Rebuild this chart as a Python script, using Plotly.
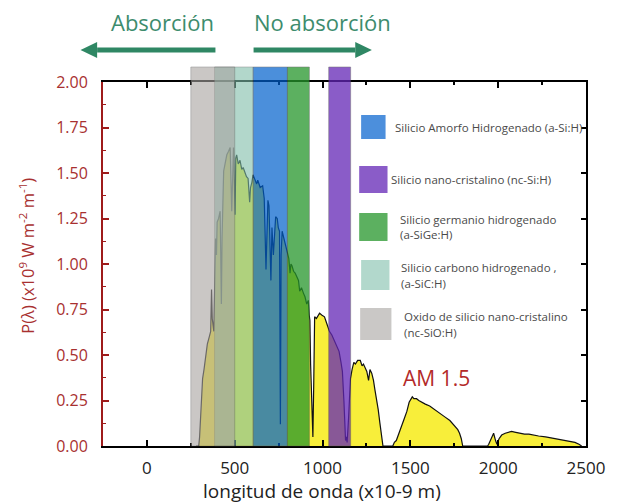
import plotly.graph_objects as go

# AM 1.5 solar spectral irradiance (wavelength in nm, P in 1e9 W m^-2 m^-1)
wavelength_nm = [
    280, 295, 300, 310, 317, 325, 335, 344, 355, 363, 368, 372, 381, 386, 391, 396,
    400, 408, 417, 424, 428, 437, 446, 455, 465, 474, 483, 488, 493, 502, 506, 511,
    520, 530, 540, 548, 558, 567, 576, 585, 590, 598, 604, 615, 625, 631, 645, 659,
    668, 678, 684, 689, 695, 706, 712, 720, 733, 742, 748, 755, 760, 764, 770, 780,
    790, 800, 808, 815, 820, 826, 835, 844, 855, 863, 870, 880, 891, 900, 910, 919,
    924, 928, 932, 937, 940, 945, 950, 955, 965, 975, 983, 995, 1011, 1025, 1039,
    1053, 1067, 1080, 1094, 1105, 1113, 1122, 1127, 1131, 1136, 1140, 1148, 1159,
    1168, 1178, 1187, 1200, 1215, 1225, 1233, 1243, 1252, 1262, 1270, 1280, 1290,
    1298, 1308, 1317, 1326, 1335, 1344, 1400, 1409, 1420, 1437, 1450, 1465, 1480,
    1493, 1505, 1511, 1520, 1535, 1548, 1565, 1585, 1610, 1641, 1670, 1696, 1725,
    1752, 1770, 1780, 1790, 1798, 1940, 1946, 1960, 1974, 1985, 1993, 2005, 2020,
    2040, 2060, 2076, 2100, 2122, 2150, 2175, 2196, 2230, 2270, 2300, 2344, 2370,
    2400, 2437, 2460, 2475,
]
irradiance = [
    0.00, 0.00, 0.05, 0.22, 0.37, 0.42, 0.50, 0.56, 0.60, 0.63, 0.86, 0.70, 0.63, 0.95, 1.14, 1.05,
    1.23, 1.25, 1.29, 0.78, 1.15, 1.51, 1.55, 1.60, 1.62, 1.64, 1.29, 1.55, 1.64, 1.27, 1.58, 1.60,
    1.55, 1.57, 1.52, 1.53, 1.50, 1.48, 1.47, 1.34, 1.42, 1.45, 1.49, 1.46, 1.44, 1.46, 1.42, 1.43,
    1.36, 0.97, 1.20, 1.35, 1.32, 0.91, 1.20, 1.05, 1.26, 1.25, 1.20, 1.18, 0.12, 1.05, 1.18, 1.14,
    1.10, 1.05, 1.03, 0.95, 1.00, 0.99, 0.96, 0.95, 0.93, 0.91, 0.85, 0.87, 0.84, 0.82, 0.78, 0.80,
    0.72, 0.69, 0.45, 0.28, 0.10, 0.05, 0.35, 0.71, 0.70, 0.72, 0.73, 0.72, 0.71, 0.67, 0.63,
    0.61, 0.58, 0.55, 0.52, 0.46, 0.41, 0.24, 0.12, 0.03, 0.05, 0.02, 0.15, 0.37,
    0.42, 0.46, 0.45, 0.47, 0.47, 0.44, 0.45, 0.43, 0.41, 0.36, 0.42, 0.40, 0.36,
    0.31, 0.26, 0.20, 0.13, 0.06, 0.00, 0.00, 0.02, 0.03, 0.07, 0.11, 0.15, 0.19,
    0.24, 0.26, 0.27, 0.26, 0.26, 0.25, 0.24, 0.23, 0.22, 0.20, 0.18, 0.16, 0.14,
    0.11, 0.09, 0.07, 0.04, 0.00, 0.00, 0.01, 0.04, 0.07, 0.03, 0.01, 0.04, 0.06,
    0.07, 0.075, 0.08, 0.075, 0.07, 0.065, 0.065, 0.06, 0.055, 0.05, 0.045, 0.035, 0.03,
    0.028, 0.02, 0.01, 0.00,
]

# Absorption bands of each thin-film material (nm), in drawing order
band_names = ["a-SiC:H", "nc-SiO:H", "a-Si:H", "a-SiGe:H", "nc-Si:H"]
band_start = [385, 250, 605, 800, 1035]
band_end = [605, 500, 800, 925, 1160]
band_colors = ["rgb(127,190,170)", "rgb(167,163,160)", "rgb(0,96,205)",
               "rgb(38,150,43)", "rgb(99,38,182)"]
band_opacity = [0.6, 0.6, 0.7, 0.75, 0.75]

# Legend entries (top to bottom): band index and text lines
legend_band = [2, 4, 3, 0, 1]
legend_lines = [
    ["Silicio Amorfo Hidrogenado (a-Si:H)"],
    ["Silicio nano-cristalino (nc-Si:H)"],
    ["Silicio germanio hidrogenado", "(a-SiGe:H)"],
    ["Silicio carbono hidrogenado ,", "(a-SiC:H)"],
    ["Oxido de silicio nano-cristalino", "(nc-SiO:H)"],
]

x_ticks = [0, 500, 1000, 1500, 2000, 2500]
y_ticks = [0.00, 0.25, 0.50, 0.75, 1.00, 1.25, 1.50, 1.75, 2.00]

RED = "#9e1b1b"
GREEN = "#2f8764"
FONT = "Open Sans"

# Plot-area geometry in pixels, used to place paper-referenced decorations
W, H = 617, 504
L, R, T, B = 103, 20, 82, 58
PW, PH = W - L - R, H - T - B


def px(xp):
    return (xp - L) / PW


def py(yp):
    return (H - B - yp) / PH


fig = go.Figure()
fig.add_trace(go.Scatter(
    x=wavelength_nm, y=irradiance, mode="lines",
    line=dict(color="#111111", width=1.2),
    fill="tozeroy", fillcolor="#f8ee3a",
    showlegend=False, hoverinfo="skip",
))
# invisible trace so the right-hand frame axis is drawn
fig.add_trace(go.Scatter(x=[0], y=[0], yaxis="y2", mode="markers",
                         marker=dict(opacity=0), showlegend=False, hoverinfo="skip"))

shapes = []
for i in range(len(band_names)):
    shapes.append(dict(
        type="rect", layer="above", xref="x", yref="paper",
        x0=band_start[i], x1=band_end[i], y0=0, y1=py(67),
        fillcolor=band_colors[i], opacity=band_opacity[i],
        line=dict(color="rgba(70,70,70,0.5)", width=1),
    ))

annotations = []
box_top = [115, 166, 213, 260, 308]
box_h = [24, 27, 28, 30, 32]
box_x0 = [367, 365, 365, 367, 366]
box_w = [25, 29, 29, 29, 32]
text_x = [400, 396, 405, 406, 409]
for k, bi in enumerate(legend_band):
    shapes.append(dict(
        type="rect", layer="above", xref="paper", yref="paper",
        x0=px(box_x0[k]), x1=px(box_x0[k] + box_w[k]),
        y0=py(box_top[k] + box_h[k]), y1=py(box_top[k]),
        fillcolor=band_colors[bi], opacity=band_opacity[bi], line=dict(width=0),
    ))
    lines = legend_lines[k]
    yc = box_top[k] + box_h[k] / 2
    offsets = [0] if len(lines) == 1 else [-8, 8]
    for line_text, dy in zip(lines, offsets):
        annotations.append(dict(
            text=line_text, xref="paper", yref="paper",
            x=px(text_x[k]), y=py(yc + dy), xanchor="left", yanchor="middle",
            showarrow=False, font=dict(family=FONT, size=11.5, color="#4a4a4a"),
        ))


def arrow(tail, tip, yp, color):
    """Thick horizontal arrow drawn in pixel positions as shaft + head."""
    direction = 1 if tip > tail else -1
    base = tip - direction * 17
    return [
        dict(type="line", xref="paper", yref="paper", layer="above",
             x0=px(tail), x1=px(base), y0=py(yp), y1=py(yp),
             line=dict(color=color, width=5)),
        dict(type="path", xref="paper", yref="paper", layer="above",
             path=(f"M {px(tip)} {py(yp)} L {px(base)} {py(yp - 8)} "
                   f"L {px(base)} {py(yp + 8)} Z"),
             fillcolor=color, line=dict(width=0)),
    ]


shapes += arrow(218, 80, 50, GREEN)
shapes += arrow(257, 378, 50, GREEN)

annotations += [
    dict(text="AM 1.5", xref="paper", yref="paper", x=px(408), y=py(378),
         xanchor="left", yanchor="middle", showarrow=False,
         font=dict(family=FONT, size=21, color="#b32a2a")),
    dict(text="Absorción", xref="paper", yref="paper", x=px(164), y=py(22),
         xanchor="center", yanchor="middle", showarrow=False,
         font=dict(family=FONT, size=22, color="#3d8c6d")),
    dict(text="No absorción", xref="paper", yref="paper", x=px(328), y=py(22),
         xanchor="center", yanchor="middle", showarrow=False,
         font=dict(family=FONT, size=22, color="#3d8c6d")),
    dict(text="longitud de onda (x10-9 m)", xref="paper", yref="paper",
         x=px(327), y=py(491), xanchor="center", yanchor="middle", showarrow=False,
         font=dict(family=FONT, size=19, color="#222222")),
    dict(text="P(λ) (x10<sup>9</sup> W m<sup>-2</sup> m<sup>-1</sup>)",
         xref="paper", yref="paper", x=px(25), y=py(256), textangle=-90,
         xanchor="center", yanchor="middle", showarrow=False,
         font=dict(family=FONT, size=16.5, color="#a83030")),
]

fig.update_layout(
    width=W, height=H,
    margin=dict(l=L, r=R, t=T, b=B),
    paper_bgcolor="white", plot_bgcolor="white",
    font=dict(family=FONT),
    shapes=shapes, annotations=annotations,
    xaxis=dict(
        range=[-250, 2500], tickvals=x_ticks, ticktext=[str(v) for v in x_ticks],
        showgrid=False, zeroline=False,
        showline=True, linecolor="black", linewidth=2, mirror="ticks",
        ticks="inside", ticklen=6, tickwidth=2, tickcolor="black",
        minor=dict(ticks="inside", ticklen=3, tickwidth=2, tickcolor="black", dtick=250,
                   tick0=0, showgrid=False),
        tickfont=dict(family=FONT, size=17, color="#222222"),
        ticklabelstandoff=6,
    ),
    yaxis=dict(
        range=[0, 2.0], tickvals=y_ticks, ticktext=[f"{v:.2f}" for v in y_ticks],
        showgrid=False, zeroline=False,
        showline=True, linecolor=RED, linewidth=2,
        ticks="inside", ticklen=6, tickwidth=2, tickcolor=RED,
        minor=dict(ticks="inside", ticklen=3, tickwidth=1, tickcolor=RED, dtick=0.125,
                   tick0=0, showgrid=False),
        tickfont=dict(family=FONT, size=16, color="#a83030"),
        ticklabelstandoff=10,
    ),
    yaxis2=dict(
        overlaying="y", side="right", range=[0, 2.0], tickvals=y_ticks,
        showticklabels=False, showgrid=False, zeroline=False,
        showline=True, linecolor="black", linewidth=2,
        ticks="inside", ticklen=5, tickwidth=2, tickcolor="black",
    ),
)

fig.write_html("out.html")
